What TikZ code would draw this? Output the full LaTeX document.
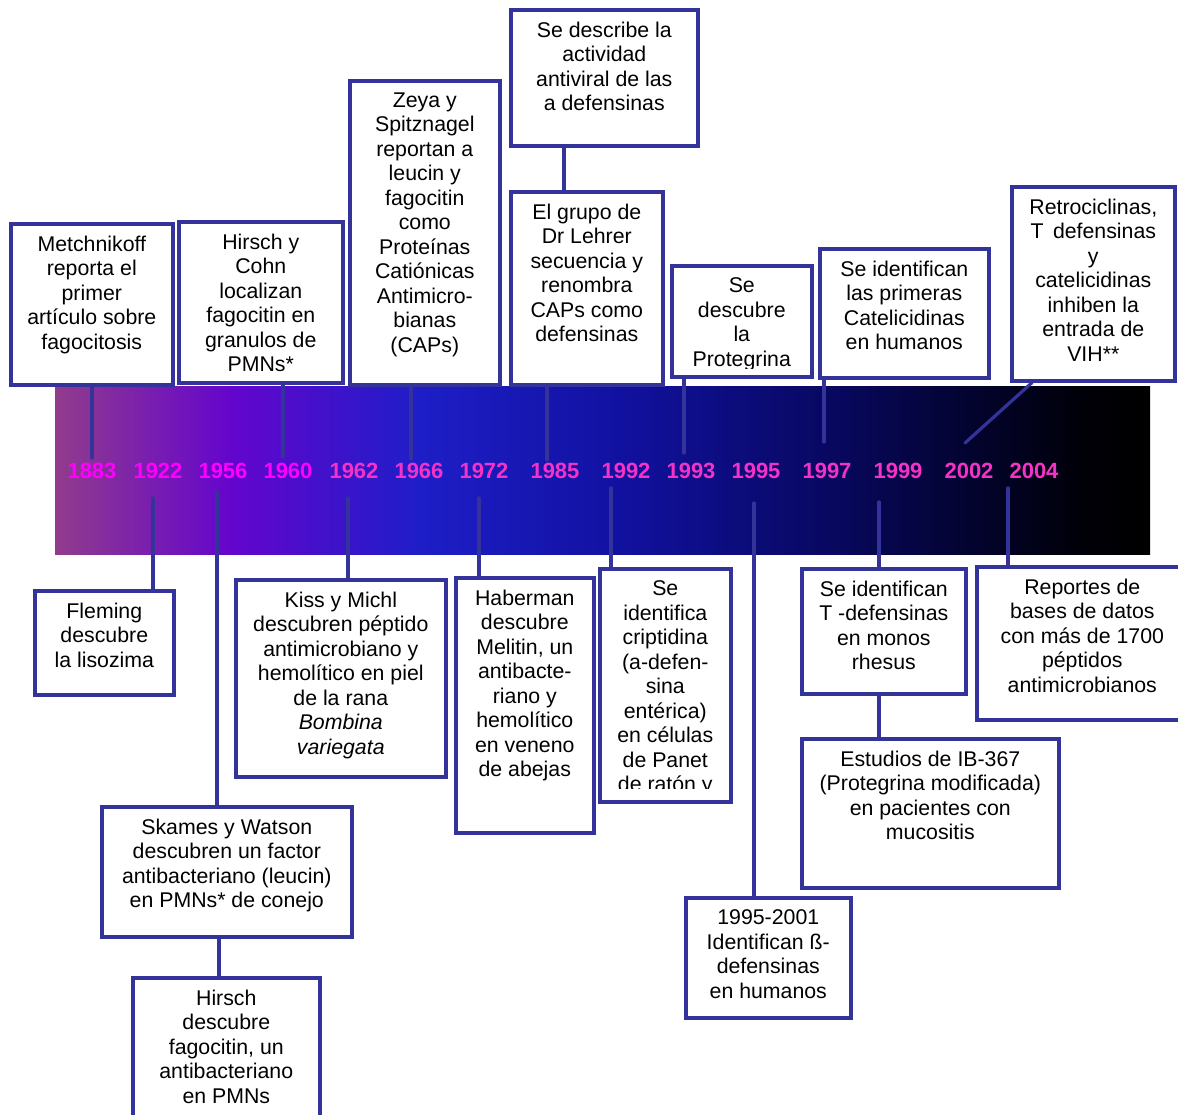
\documentclass[tikz,border=0pt]{standalone}
\usepackage{fontspec}
\setmainfont{Liberation Sans}
\usepackage{tikz}
\usetikzlibrary{positioning}
\definecolor{boxblue}{RGB}{51,51,153}
\definecolor{yrmag}{RGB}{255,0,255}
\definecolor{yrpink}{RGB}{245,50,200}
\definecolor{bar0}{RGB}{145,60,140}
\definecolor{bar1}{RGB}{100,5,205}
\definecolor{bar2}{RGB}{30,30,200}
\definecolor{bar3}{RGB}{17,17,160}
\definecolor{bar4}{RGB}{7,7,90}
\definecolor{bar5}{RGB}{0,0,8}

\begin{document}
\begin{tikzpicture}[x=1pt,y=-1pt,
  evbox/.style={draw=boxblue,line width=3.6pt,fill=white,anchor=north west,inner sep=0},
  evtxt/.style={anchor=north,align=center,inner sep=0,font=\fontsize{21.3}{24.5}\selectfont},
  yr/.style={font=\fontsize{22}{24}\selectfont\bfseries,inner sep=0},
  link/.style={draw=boxblue,line width=3.2pt,line cap=round}]
\useasboundingbox (0,0) rectangle (1178,1114);
% gradient bar
\shade[left color=bar0,right color=bar1] (55,386) rectangle (231,554);
\shade[left color=bar1,right color=bar2] (230,386) rectangle (421,554);
\shade[left color=bar2,right color=bar3] (420,386) rectangle (621,554);
\shade[left color=bar3,right color=bar4] (620,386) rectangle (851,554);
\shade[left color=bar4,right color=bar5] (850,386) rectangle (1081,554);
\shade[left color=bar5,right color=black] (1080,386) rectangle (1150,554);
% free ends of the connectors
\coordinate (l1883) at (92,458);  \coordinate (l1960) at (283,457);
\coordinate (l1966) at (411,459); \coordinate (l1985) at (547,460);
\coordinate (l1993) at (684,453); \coordinate (l1997) at (824,442);
\coordinate (l2002) at (965,443); \coordinate (k2002) at (1032,0);
\coordinate (l1922) at (153,498); \coordinate (l1956) at (217,492);
\coordinate (l1962) at (348,498); \coordinate (l1972) at (479,498);
\coordinate (l1992) at (611,488); \coordinate (l1995) at (754,503);
\coordinate (l1999) at (879,502); \coordinate (l2004) at (1008,488);
\coordinate (k1985) at (564,0);   \coordinate (k1956) at (219,0);
% boxes above the bar
\node[evbox,minimum width=162pt,minimum height=161pt] (b1883) at (9,222) {};
\node[evbox,minimum width=164pt,minimum height=161pt] (b1960) at (177,220) {};
\node[evbox,minimum width=150pt,minimum height=304pt] (b1966) at (348,79) {};
\node[evbox,minimum width=187pt,minimum height=136pt] (b1985v) at (509,8) {};
\node[evbox,minimum width=152pt,minimum height=193pt] (b1985) at (509,190) {};
\node[evbox,minimum width=140pt,minimum height=111pt] (b1993) at (670,264) {};
\node[evbox,minimum width=169pt,minimum height=129pt] (b1997) at (818,247) {};
\node[evbox,minimum width=163pt,minimum height=194pt] (b2002) at (1010,185) {};
% boxes below the bar
\node[evbox,minimum width=139pt,minimum height=104pt] (b1922) at (33,589) {};
\node[evbox,minimum width=210pt,minimum height=197pt] (b1962) at (234,578) {};
\node[evbox,minimum width=250pt,minimum height=130pt] (b1956) at (100,805) {};
\node[evbox,minimum width=187pt,minimum height=144pt] (b1956h) at (131,976) {};
\node[evbox,minimum width=138pt,minimum height=255pt] (b1972) at (454,576) {};
\node[evbox,minimum width=131pt,minimum height=233pt] (b1992) at (598,567) {};
\node[evbox,minimum width=165pt,minimum height=120pt] (b1995) at (684,896) {};
\node[evbox,minimum width=164pt,minimum height=125pt] (b1999) at (800,567) {};
\node[evbox,minimum width=257pt,minimum height=149pt] (b1999e) at (800,737) {};
\node[evbox,minimum width=211pt,minimum height=153pt] (b2004) at (975,565) {};
% connectors
\draw[link] (b1883.south -| l1883) -- (l1883);
\draw[link] (b1960.south -| l1960) -- (l1960);
\draw[link] (b1966.south -| l1966) -- (l1966);
\draw[link] (b1985.south -| l1985) -- (l1985);
\draw[link] (b1985v.south -| k1985) -- (b1985.north -| k1985);
\draw[link] (b1993.south -| l1993) -- (l1993);
\draw[link] (b1997.south -| l1997) -- (l1997);
\draw[link] (b2002.south -| k2002) -- (l2002);
\draw[link] (l1922) -- (b1922.north -| l1922);
\draw[link] (l1956) -- (b1956.north -| l1956);
\draw[link] (b1956.south -| k1956) -- (b1956h.north -| k1956);
\draw[link] (l1962) -- (b1962.north -| l1962);
\draw[link] (l1972) -- (b1972.north -| l1972);
\draw[link] (l1992) -- (b1992.north -| l1992);
\draw[link] (l1995) -- (b1995.north -| l1995);
\draw[link] (l1999) -- (b1999.north -| l1999);
\draw[link] (b1999.south -| l1999) -- (b1999e.north -| l1999);
\draw[link] (l2004) -- (b2004.north -| l2004);
% texts
\node[evtxt,below=13.5pt of b1883.north] (t1883) {Metchnikoff\\reporta el\\primer\\artículo sobre\\fagocitosis};
\node[evtxt,below=13.5pt of b1960.north] (t1960) {Hirsch y\\Cohn\\localizan\\fagocitin en\\granulos de\\PMNs*};
\node[evtxt,below=13.5pt of b1966.north] (t1966) {Zeya y\\Spitznagel\\reportan a\\leucin y\\fagocitin\\como\\Proteínas\\Catiónicas\\Antimicro-\\bianas\\(CAPs)};
\node[evtxt,below=13.5pt of b1985v.north] (t1985v) {Se describe la\\actividad\\antiviral de las\\a defensinas};
\node[evtxt,below=13.5pt of b1985.north] (t1985) {El grupo de\\Dr Lehrer\\secuencia y\\renombra\\CAPs como\\defensinas};
\begin{scope}
  \clip (672,266) rectangle (808,368);
  \node[evtxt,below=13.5pt of b1993.north] (t1993) {Se\\descubre\\la\\Protegrina};
\end{scope}
\node[evtxt,below=13.5pt of b1997.north] (t1997) {Se identifican\\las primeras\\Catelicidinas\\en humanos};
\node[evtxt,below=13.5pt of b2002.north] (t2002) {Retrociclinas,\\T\, defensinas\\y\\catelicidinas\\inhiben la\\entrada de\\VIH**};
\node[evtxt,below=13.5pt of b1922.north] (t1922) {Fleming\\descubre\\la lisozima};
\node[evtxt,below=13.5pt of b1962.north] (t1962) {Kiss y Michl\\descubren péptido\\antimicrobiano y\\hemolítico en piel\\de la rana\\\textit{Bombina}\\\textit{variegata}};
\node[evtxt,below=13.5pt of b1956.north] (t1956) {Skames y Watson\\descubren un factor\\antibacteriano (leucin)\\en PMNs* de conejo};
\node[evtxt,below=13.5pt of b1956h.north] (t1956h) {Hirsch\\descubre\\fagocitin, un\\antibacteriano\\en PMNs};
\node[evtxt,below=13.5pt of b1972.north] (t1972) {Haberman\\descubre\\Melitin, un\\antibacte-\\riano y\\hemolítico\\en veneno\\de abejas};
\begin{scope}
  \clip (600,569) rectangle (727,788);
  \node[evtxt,below=13.5pt of b1992.north] (t1992) {Se\\identifica\\criptidina\\(a-defen-\\sina\\entérica)\\en células\\de Panet\\de ratón y};
\end{scope}
\node[evtxt,below=13.5pt of b1995.north] (t1995) {1995-2001\\Identifican ß-\\defensinas\\en humanos};
\node[evtxt,below=13.5pt of b1999.north] (t1999) {Se identifican\\T -defensinas\\en monos\\rhesus};
\node[evtxt,below=13.5pt of b1999e.north] (t1999e) {Estudios de IB-367\\(Protegrina modificada)\\en pacientes con\\mucositis};
\node[evtxt,below=13.5pt of b2004.north] (t2004) {Reportes de\\bases de datos\\con más de 1700\\péptidos\\antimicrobianos};
% years
\foreach \yy/\xx in {1883/92,1922/158,1956/223,1960/288}
  \node[yr,text=yrmag] (y\yy) at (\xx,471) {\yy};
\foreach \yy/\xx in {1962/354,1966/419,1972/484,1985/555,1992/626,1993/691,1995/756,1997/827,1999/898,2002/969,2004/1034}
  \node[yr,text=yrpink] (y\yy) at (\xx,471) {\yy};
\end{tikzpicture}
\end{document}
